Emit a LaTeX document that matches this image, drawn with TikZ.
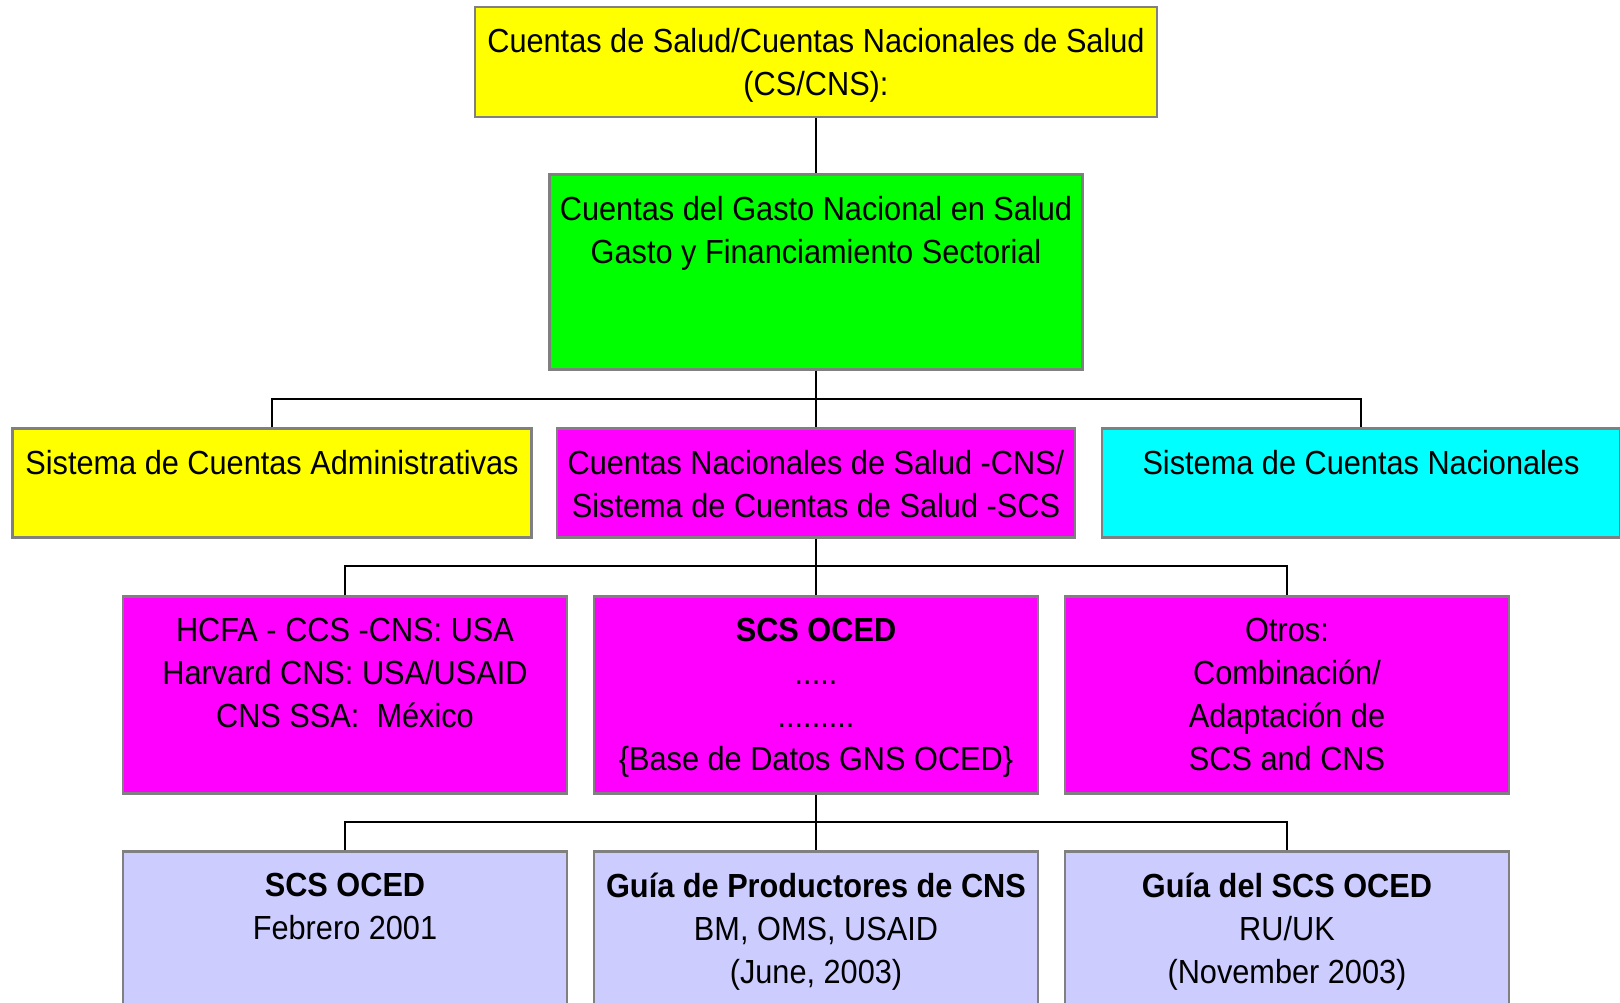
\documentclass[tikz,border=0pt]{standalone}
\usepackage{fontspec}
\setmainfont{Liberation Sans}[FakeStretch=0.92]
\usetikzlibrary{positioning}
\definecolor{amarillo}{RGB}{255,255,0}
\definecolor{verde}{RGB}{0,255,0}
\definecolor{rosa}{RGB}{255,0,255}
\definecolor{celeste}{RGB}{0,255,255}
\definecolor{lavanda}{RGB}{204,204,255}
\definecolor{borde}{RGB}{128,128,128}
\tikzset{
    caja/.style={draw=borde, line width=1.2pt, fill=#1, inner sep=0pt},
    tam/.style 2 args={minimum width=#1*0.02cm, minimum height=#2*0.02cm},
    texto/.style={inner sep=0pt, align=center, font=\fontsize{19}{24.4}\selectfont},
    linea/.style={line width=1.1pt}
}
\begin{document}
\begin{tikzpicture}[x=0.02cm, y=-0.02cm]
    \useasboundingbox (0,0) rectangle (1620,1003);
    \clip (0,0) rectangle (1620,1003);

    % cajas
    \node[caja=amarillo, tam={682}{110}] (cs) at (816,62) {};
    \node[caja=verde, tam={533}{195}] (gasto) at (816,272) {};
    \node[caja=amarillo, tam={519}{109}] (adm) at (272,483) {};
    \node[caja=rosa, tam={518}{109}] (cns) at (816,483) {};
    \node[caja=celeste, tam={518}{109}] (scn) at (1361,483) {};
    \node[caja=rosa, tam={444}{197}] (hcfa) at (345,695) {};
    \node[caja=rosa, tam={444}{197}] (oced) at (816,695) {};
    \node[caja=rosa, tam={444}{197}] (otros) at (1287,695) {};
    \node[caja=lavanda, tam={444}{197}] (feb) at (345,950) {};
    \node[caja=lavanda, tam={444}{197}] (guia) at (816,950) {};
    \node[caja=lavanda, tam={444}{197}] (ruk) at (1287,950) {};

    % textos
    \node[texto, below=0.45cm of cs.north] (cs-t) {Cuentas de Salud/Cuentas Nacionales de Salud\\(CS/CNS):};
    \node[texto, below=0.45cm of gasto.north] (gasto-t) {Cuentas del Gasto Nacional en Salud\\Gasto y Financiamiento Sectorial};
    \node[texto, below=0.45cm of adm.north] (adm-t) {Sistema de Cuentas Administrativas};
    \node[texto, below=0.45cm of cns.north] (cns-t) {Cuentas Nacionales de Salud -CNS/\\Sistema de Cuentas de Salud -SCS};
    \node[texto, below=0.45cm of scn.north] (scn-t) {Sistema de Cuentas Nacionales};
    \node[texto, below=0.45cm of hcfa.north] (hcfa-t) {HCFA - CCS -CNS: USA\\Harvard CNS: USA/USAID\\CNS SSA:~ México};
    \node[texto, below=0.45cm of oced.north] (oced-t) {\textbf{SCS OCED}\\.....\\.........\\\{Base de Datos GNS OCED\}};
    \node[texto, below=0.45cm of otros.north] (otros-t) {Otros:\\Combinación/\\Adaptación de\\SCS and CNS};
    \node[texto, below=0.45cm of feb.north] (feb-t) {\textbf{SCS OCED}\\Febrero 2001};
    \node[texto, below=0.45cm of guia.north] (guia-t) {\textbf{Guía de Productores de CNS}\\BM, OMS, USAID\\(June, 2003)};
    \node[texto, below=0.45cm of ruk.north] (ruk-t) {\textbf{Guía del SCS OCED}\\RU/UK\\(November 2003)};

    % conectores
    \coordinate (b1) at (816,399);
    \coordinate (b2) at (816,566);
    \coordinate (b3) at (816,822);
    \draw[linea] (cs.south) -- (gasto.north);
    \draw[linea] (gasto.south) -- (b1) -- (cns.north);
    \draw[linea] (adm.north) |- (b1) -| (scn.north);
    \draw[linea] (cns.south) -- (b2) -- (oced.north);
    \draw[linea] (hcfa.north) |- (b2) -| (otros.north);
    \draw[linea] (oced.south) -- (b3) -- (guia.north);
    \draw[linea] (feb.north) |- (b3) -| (ruk.north);
\end{tikzpicture}
\end{document}
